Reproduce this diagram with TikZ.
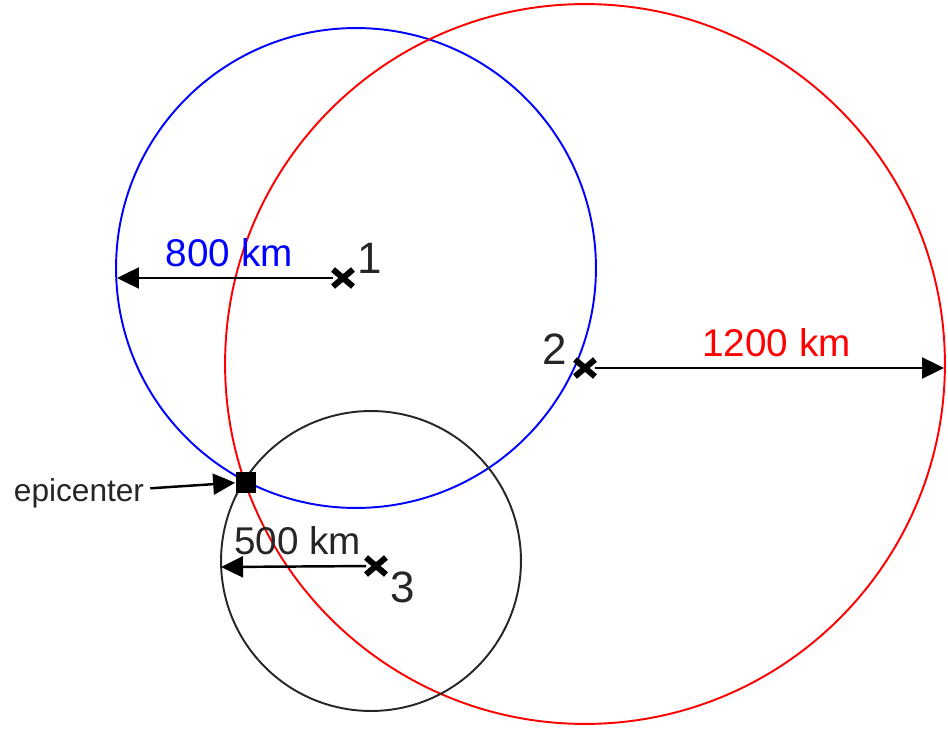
\documentclass[tikz,border=0pt]{standalone}
\usepackage{fontspec}
\setmainfont{Liberation Sans}
\usetikzlibrary{arrows.meta, shapes.misc}

\begin{document}
\begin{tikzpicture}[
        x=0.02cm, y=-0.02cm,
        ring/.style={line width=1.1pt},
        station/.style={cross out, draw=black, line width=3.4pt, minimum width=0.28cm, minimum height=0.22cm, inner sep=0pt},
        arrow/.style={-{Triangle[length=0.44cm, width=0.42cm]}, line width=1.4pt, draw=black},
        dist/.style={font=\fontsize{22}{26}\selectfont, inner sep=0pt},
        num/.style={font=\fontsize{25}{30}\selectfont, inner sep=0pt, text=black!85}
    ]
    \useasboundingbox (0,0) rectangle (948,730);

    \draw [ring, blue] (356,268) circle [radius=4.8cm];
    \draw [ring, red] (585,364) circle [radius=7.2cm];
    \draw [ring, black!85] (371,561) circle [radius=3.0cm];

    \node (stationA) [station] at (343,278) {};
    \node (stationB) [station] at (585,368) {};
    \node (stationC) [station] at (376,566) {};

    \node (numA) [num] at (370,258) {1};
    \node (numB) [num] at (555,349) {2};
    \node (numC) [num] at (403,587) {3};

    \coordinate (blueEdge) at (117,278);
    \coordinate (redEdge) at (944,368);
    \coordinate (blackEdge) at (221,567);

    \draw [arrow] (stationA) -- node[dist, text=blue, above=0.2cm, pos=0.48] {800 km} (blueEdge);
    \draw [arrow] (stationB) -- node[dist, text=red, above=0.2cm, pos=0.52] {1200 km} (redEdge);
    \draw [arrow] (stationC) -- node[dist, text=black!85, above=0.2cm, pos=0.47] {500 km} (blackEdge);

    \node (epicenter) [fill=black, minimum size=0.42cm, inner sep=0pt] at (246,482) {};
    \node (epiLabel) [font=\fontsize{18}{22}\selectfont, text=black!85] at (79,493) {epicenter};
    \draw [arrow] (epiLabel) -- (epicenter);

\end{tikzpicture}
\end{document}
